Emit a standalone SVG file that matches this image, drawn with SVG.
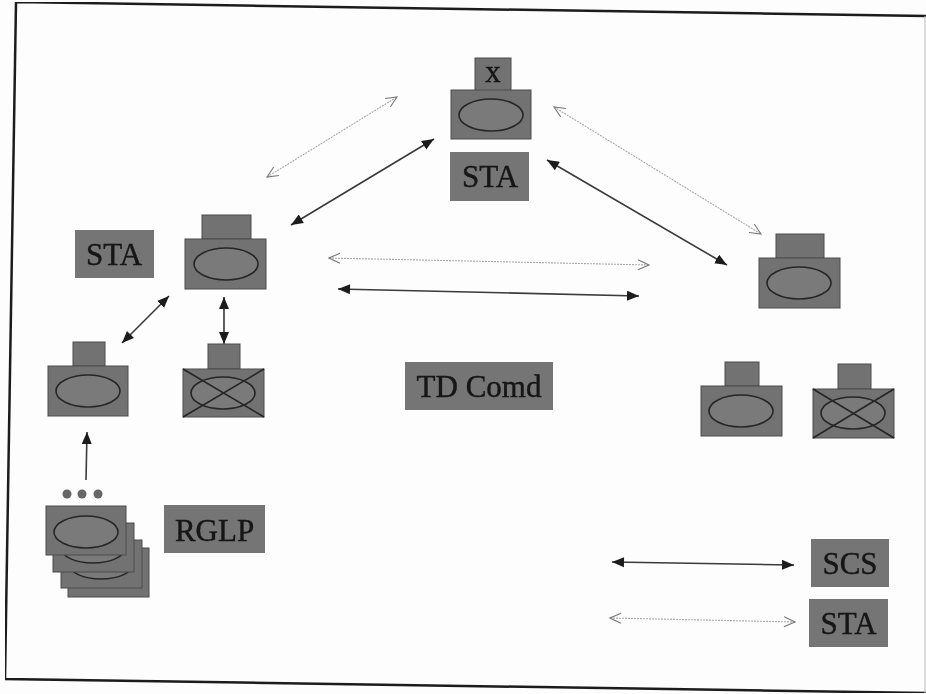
<svg xmlns="http://www.w3.org/2000/svg" width="926" height="694" viewBox="0 0 926 694">
<style>
.b{fill:#727272;stroke:#4a4a4a;stroke-width:1}
.e{fill:#7a7a7a;stroke:#262626;stroke-width:1.6}
.x{stroke:#262626;stroke-width:1.6;fill:none}
.l{fill:#747474}
.t{font-family:"Liberation Serif","Times New Roman",serif;font-size:31px;fill:#141414;stroke:#141414;stroke-width:.4;text-anchor:middle}
.d{stroke:#3a3a3a;stroke-width:1.6;fill:none;marker-start:url(#sf);marker-end:url(#ef)}
.g{stroke:#a8a8a8;stroke-width:1.1;stroke-dasharray:2 1;fill:none;marker-start:url(#so);marker-end:url(#eo)}
</style>
<defs>
<marker id="ef" markerUnits="userSpaceOnUse" markerWidth="14" markerHeight="12" refX="12" refY="5" orient="auto"><path d="M0 0L12 5L0 10Z" fill="#1e1e1e"/></marker>
<marker id="sf" markerUnits="userSpaceOnUse" markerWidth="14" markerHeight="12" refX="0" refY="5" orient="auto"><path d="M12 0L0 5L12 10Z" fill="#1e1e1e"/></marker>
<marker id="eo" markerUnits="userSpaceOnUse" markerWidth="14" markerHeight="12" refX="12" refY="6" orient="auto"><path d="M1 1L12 6L1 11" fill="none" stroke="#777" stroke-width="1.1"/></marker>
<marker id="so" markerUnits="userSpaceOnUse" markerWidth="14" markerHeight="12" refX="1" refY="6" orient="auto"><path d="M12 1L1 6L12 11" fill="none" stroke="#777" stroke-width="1.1"/></marker>
<filter id="soft" x="0" y="0" width="100%" height="100%"><feGaussianBlur stdDeviation="0.5"/></filter>
</defs>
<rect width="926" height="694" fill="#fdfdfd"/>
<g filter="url(#soft)">
<path id="frame" d="M926 16L16 2L5 679L926 693" fill="none" stroke="#1c1c1c" stroke-width="2.5"/>
<line x1="925" y1="16" x2="925" y2="693" stroke="#bbb" stroke-width="1"/>
<g id="connectors">
<line class="g" x1="267" y1="177" x2="397" y2="97"/>
<line class="d" x1="291" y1="225" x2="434" y2="139"/>
<line class="g" x1="554" y1="107" x2="761" y2="234"/>
<line class="d" x1="547" y1="160" x2="727" y2="265"/>
<line class="g" x1="329" y1="258" x2="649" y2="265"/>
<line class="d" x1="338" y1="289" x2="639" y2="296"/>
<line class="d" x1="122" y1="343" x2="169" y2="296"/>
<line class="d" x1="224" y1="297" x2="224" y2="344"/>
<line x1="86" y1="480" x2="87" y2="432" stroke="#3a3a3a" stroke-width="1.6" marker-end="url(#ef)"/>
<line class="d" x1="612" y1="562" x2="794" y2="565"/>
<line class="g" x1="610" y1="618" x2="795" y2="622"/>
</g>
<g id="node-top">
<rect class="b" x="475" y="58" width="36" height="33"/>
<text x="493" y="82" class="t">x</text>
<rect class="b" x="451" y="90" width="80" height="49"/>
<ellipse class="e" cx="491" cy="115" rx="32" ry="16"/>
</g>
<g id="label-sta-top"><rect class="l" x="450" y="152" width="79" height="49"/><text x="490" y="187" class="t">STA</text></g>
<g id="label-sta-left"><rect class="l" x="75" y="230" width="79" height="48"/><text x="114" y="265" class="t">STA</text></g>
<g id="node-left">
<rect class="b" x="202" y="215" width="49" height="24"/>
<rect class="b" x="185" y="239" width="81" height="50"/>
<ellipse class="e" cx="226" cy="264" rx="32" ry="16"/>
</g>
<g id="node-lower-left">
<rect class="b" x="73" y="342" width="32" height="24"/>
<rect class="b" x="48" y="366" width="80" height="50"/>
<ellipse class="e" cx="88" cy="391" rx="32" ry="16"/>
</g>
<g id="node-lower-x">
<rect class="b" x="208" y="344" width="32" height="25"/>
<rect class="b" x="183" y="369" width="81" height="48"/>
<ellipse class="e" cx="223" cy="393" rx="32" ry="16"/>
<path class="x" d="M183 369L264 417M264 369L183 417"/>
</g>
<g id="node-stack">
<circle cx="67" cy="494" r="4.500" fill="#666"/><circle cx="82" cy="494" r="4.500" fill="#666"/><circle cx="98" cy="494" r="4.500" fill="#666"/>
<rect class="b" x="68" y="548" width="81" height="49"/>
<rect class="b" x="61" y="540" width="81" height="48"/>
<ellipse class="e" cx="101" cy="564" rx="32" ry="15"/>
<rect class="b" x="53" y="523" width="81" height="49"/>
<ellipse class="e" cx="93" cy="548" rx="32" ry="15"/>
<rect class="b" x="46" y="506" width="80" height="49"/>
<ellipse class="e" cx="86" cy="532" rx="32" ry="16"/>
</g>
<g id="label-rglp"><rect class="l" x="164" y="505" width="101" height="48"/><text x="214.500" y="541" class="t">RGLP</text></g>
<g id="label-td"><rect class="l" x="405" y="362" width="148" height="48"/><text x="479" y="397" class="t">TD Comd</text></g>
<g id="node-right">
<rect class="b" x="776" y="234" width="48" height="24"/>
<rect class="b" x="759" y="258" width="81" height="50"/>
<ellipse class="e" cx="799" cy="283" rx="32" ry="16"/>
</g>
<g id="node-right-lower">
<rect class="b" x="725" y="362" width="34" height="24"/>
<rect class="b" x="701" y="386" width="81" height="50"/>
<ellipse class="e" cx="741" cy="411" rx="32" ry="16"/>
</g>
<g id="node-right-x">
<rect class="b" x="838" y="364" width="33" height="25"/>
<rect class="b" x="813" y="389" width="81" height="49"/>
<ellipse class="e" cx="853" cy="413" rx="32" ry="16"/>
<path class="x" d="M813 389L894 438M894 389L813 438"/>
</g>
<g id="label-scs"><rect class="l" x="811" y="539" width="78" height="48"/><text x="850" y="574" class="t">SCS</text></g>
<g id="label-sta-legend"><rect class="l" x="809" y="599" width="79" height="48"/><text x="848.500" y="634" class="t">STA</text></g>
</g>
</svg>
